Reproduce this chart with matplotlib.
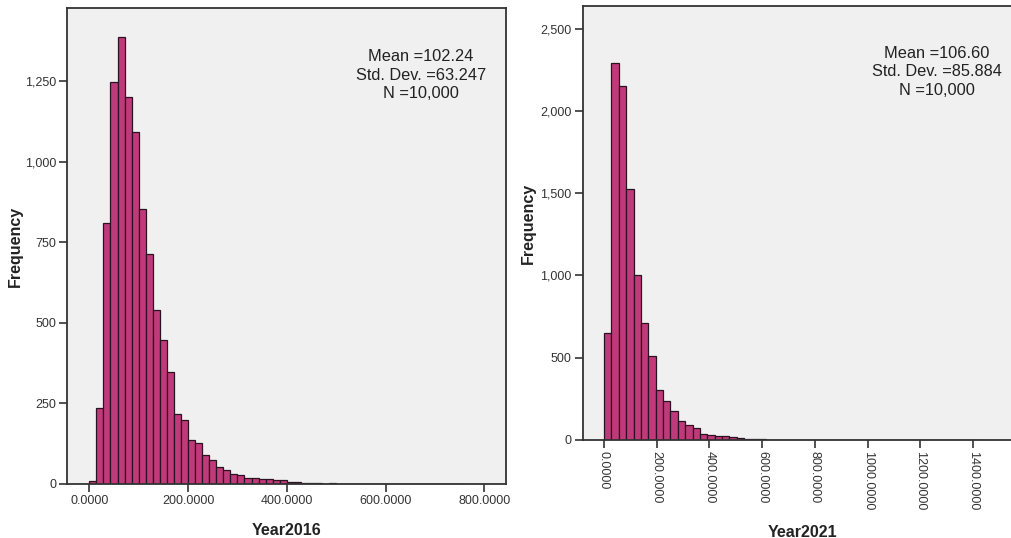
import matplotlib
matplotlib.use("Agg")
import matplotlib.pyplot as plt
from matplotlib.ticker import FuncFormatter, FixedLocator

# ---- data ---------------------------------------------------------------
# Year2016: histogram counts, bins start at 0 with a fixed width
bin_width_2016 = 400.0 / 28
counts_2016 = [10, 236, 810, 1247, 1385, 1200, 1091, 852, 713, 539,
               445, 347, 217, 200, 136, 128, 90, 74, 52, 43,
               30, 27, 18, 19, 15, 16, 11, 11, 7, 5,
               4, 2, 2, 1, 2, 1, 1, 1, 0, 1,
               1, 0, 1, 0, 1, 0, 0, 1, 0, 0,
               1, 0, 1]
stats_2016 = ["Mean =102.24", "Std. Dev. =63.247", "N =10,000"]
yticks_2016 = [0, 250, 500, 750, 1000, 1250]
xticks_2016 = [0, 200, 400, 600, 800]

# Year2021: histogram counts
bin_width_2021 = 28.0
counts_2021 = [651, 2290, 2150, 1525, 1004, 712, 508, 302, 236, 176,
               116, 92, 74, 35, 33, 26, 22, 16, 10, 8,
               6, 4, 3, 3, 2, 2, 1, 1, 1, 1,
               0, 1, 0, 1, 0, 0, 1, 0, 0, 1,
               0, 0, 0, 0, 0, 0, 0, 0, 0, 0,
               1]
stats_2021 = ["Mean =106.60", "Std. Dev. =85.884", "N =10,000"]
yticks_2021 = [0, 500, 1000, 1500, 2000, 2500]
xticks_2021 = [0, 200, 400, 600, 800, 1000, 1200, 1400]

# ---- style ----------------------------------------------------------------
plt.rcParams["font.family"] = ["Liberation Sans", "DejaVu Sans"]
BAR = "#C0397A"
EDGE = "#2b1220"
PANEL = "#F0F0F0"
SPINE = "#333333"
TXT = "#222222"

fig = plt.figure(figsize=(10.12, 5.38), dpi=100)
fig.patch.set_facecolor("white")

W, H = 1012.0, 538.0


def px_axes(left, top, right, bottom):
    return fig.add_axes([left / W, 1 - bottom / H, (right - left) / W, (bottom - top) / H])


def histogram(ax, counts, width, xlim, ylim, xticks, yticks, xlabel, rotate):
    edges = [i * width for i in range(len(counts))]
    ax.bar(edges, counts, width=width, align="edge", color=BAR,
           edgecolor=EDGE, linewidth=0.9)
    ax.set_facecolor(PANEL)
    ax.set_xlim(*xlim)
    ax.set_ylim(*ylim)
    for s in ax.spines.values():
        s.set_color(SPINE)
        s.set_linewidth(1.3)
    ax.yaxis.set_major_locator(FixedLocator(yticks))
    ax.yaxis.set_major_formatter(FuncFormatter(lambda v, p: f"{int(v):,}"))
    ax.xaxis.set_major_locator(FixedLocator(xticks))
    ax.xaxis.set_major_formatter(FuncFormatter(lambda v, p: f"{v:.4f}"))
    ax.tick_params(axis="both", direction="out", length=6, width=1.2,
                   color=SPINE, labelsize=9, labelcolor="#333333", pad=2)
    if rotate:
        for lab in ax.get_xticklabels():
            lab.set_rotation(270)
            lab.set_va("top")
            lab.set_ha("center")
    ax.set_ylabel("Frequency", fontsize=11.5, fontweight="bold", color=TXT)
    ax.set_xlabel(xlabel, fontsize=11.5, fontweight="bold", color=TXT)


ax1 = px_axes(67.3, 8, 506.5, 484)
histogram(ax1, counts_2016, bin_width_2016, (-44.6, 845), (0, 1476),
          xticks_2016, yticks_2016, "Year2016", False)
ax1.yaxis.set_label_coords(-44 / 439.2, 0.5)
ax1.xaxis.set_label_coords((287 - 67.3) / 439.2, -(523 - 484) / 476)
fig.text(421 / W, 1 - 75 / H, "\n".join(stats_2016), ha="center", va="center",
         fontsize=11.8, color=TXT, linespacing=1.3)

ax2 = px_axes(582.7, 6, 1016, 440)
histogram(ax2, counts_2021, bin_width_2021, (-80.8, 1563), (0, 2637),
          xticks_2021, yticks_2021, "Year2021", True)
ax2.yaxis.set_label_coords(-(582.7 - 536) / 433.3, 0.5)
ax2.xaxis.set_label_coords((802 - 582.7) / 433.3, -(525 - 440) / 434)
fig.text(937 / W, 1 - 72 / H, "\n".join(stats_2021), ha="center", va="center",
         fontsize=11.8, color=TXT, linespacing=1.3)

fig.savefig("out.png", dpi=100)
